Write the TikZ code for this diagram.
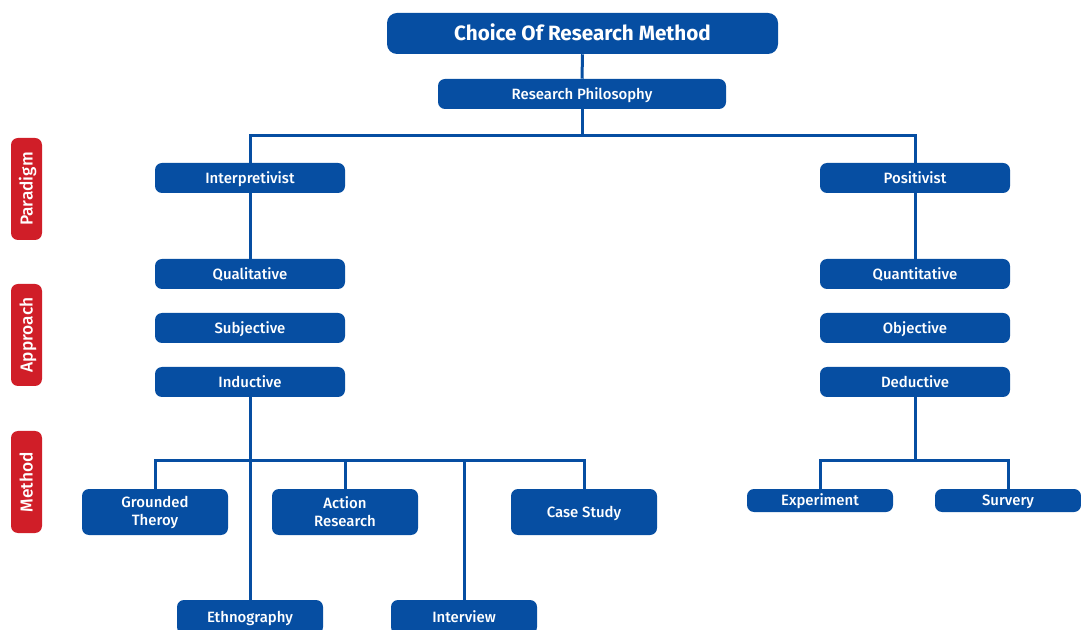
\documentclass[tikz,border=0pt]{standalone}
\usepackage{fontspec}
\setmainfont{Fira Sans}
\newfontfamily\medfont{Fira Sans Medium}
\definecolor{boxblue}{RGB}{6,78,162}
\definecolor{tagred}{RGB}{208,30,40}
\begin{document}
\begin{tikzpicture}[x=0.75pt,y=-0.75pt,
  box/.style={fill=boxblue, rounded corners=7*0.75pt, text=white, inner sep=0pt,
    align=center, font=\medfont\fontsize{11.2}{13.5}\selectfont,
    text height=7.9pt, text depth=0pt,
    minimum width=190*0.75pt, minimum height=30*0.75pt},
  leaf/.style={box, minimum width=146*0.75pt, minimum height=46*0.75pt},
  twoline/.style={leaf, text height=, text depth=},
  small/.style={box, minimum width=146*0.75pt, minimum height=23*0.75pt},
  tag/.style={fill=tagred, rounded corners=7*0.75pt, text=white, inner sep=0pt,
    rotate=90, font=\medfont\fontsize{13}{15}\selectfont,
    text height=9.3pt, text depth=0pt,
    minimum width=102*0.75pt, minimum height=31*0.75pt},
  link/.style={draw=boxblue, line width=3*0.75pt}]
\useasboundingbox (0,0) rectangle (1081,630);

% side tags
\node[tag] (paradigm) at (26.5,189) {Paradigm};
\node[tag] (approach) at (26.5,335) {Approach};
\node[tag] (method)   at (26.5,482) {Method};

% junction points of the tree
\coordinate (rootbar) at (582,136);
\coordinate (leftbar) at (249,461);
\coordinate (rightbar) at (915,461);

% boxes
\node[box, minimum width=391*0.75pt, minimum height=41*0.75pt, rounded corners=10*0.75pt,
  font=\fontsize{15.5}{18}\selectfont\bfseries, text height=11pt, text depth=0pt] (title) at (582.5,33.5) {Choice Of Research Method};
\node[box, minimum width=288*0.75pt] (phil) at (582,94) {Research Philosophy};

\node[box] (interp) at (250,178) {Interpretivist};
\node[box] (qual)   at (250,274) {Qualitative};
\node[box] (subj)   at (250,328) {Subjective};
\node[box] (induc)  at (250,382) {Inductive};

\node[box] (posit)  at (915,178) {Positivist};
\node[box] (quant)  at (915,274) {Quantitative};
\node[box] (obj)    at (915,328) {Objective};
\node[box] (deduc)  at (915,382) {Deductive};

\node[twoline] (grounded) at (155,512) {Grounded\\Theroy};
\node[twoline] (action)   at (345,512) {Action\\Research};
\node[leaf] (case)     at (584,512) {Case Study};
\node[leaf, minimum height=34*0.75pt] (ethno)    at (250,617) {Ethnography};
\node[leaf, minimum height=34*0.75pt] (inter)    at (464,617) {Interview};

\node[small] (exper) at (820,500.5) {Experiment};
\node[small] (surv)  at (1008,500.5) {Survery};

% links
\draw[link] (title.south) -- (phil.north);
\draw[link] (phil.south) -- (rootbar);
\draw[link] (interp.north) |- (rootbar) -| (posit.north);
\draw[link] (interp.south) -- (qual.north);
\draw[link] (posit.south) -- (quant.north);

\draw[link] (induc.south) -- (ethno.north);
\draw[link] (grounded.north) |- (leftbar) -| (case.north);
\draw[link] (action.north) -- (action.north |- leftbar);
\draw[link] (inter.north) -- (inter.north |- leftbar);

\draw[link] (deduc.south) -- (rightbar);
\draw[link] (exper.north) |- (rightbar) -| (surv.north);
\end{tikzpicture}
\end{document}
